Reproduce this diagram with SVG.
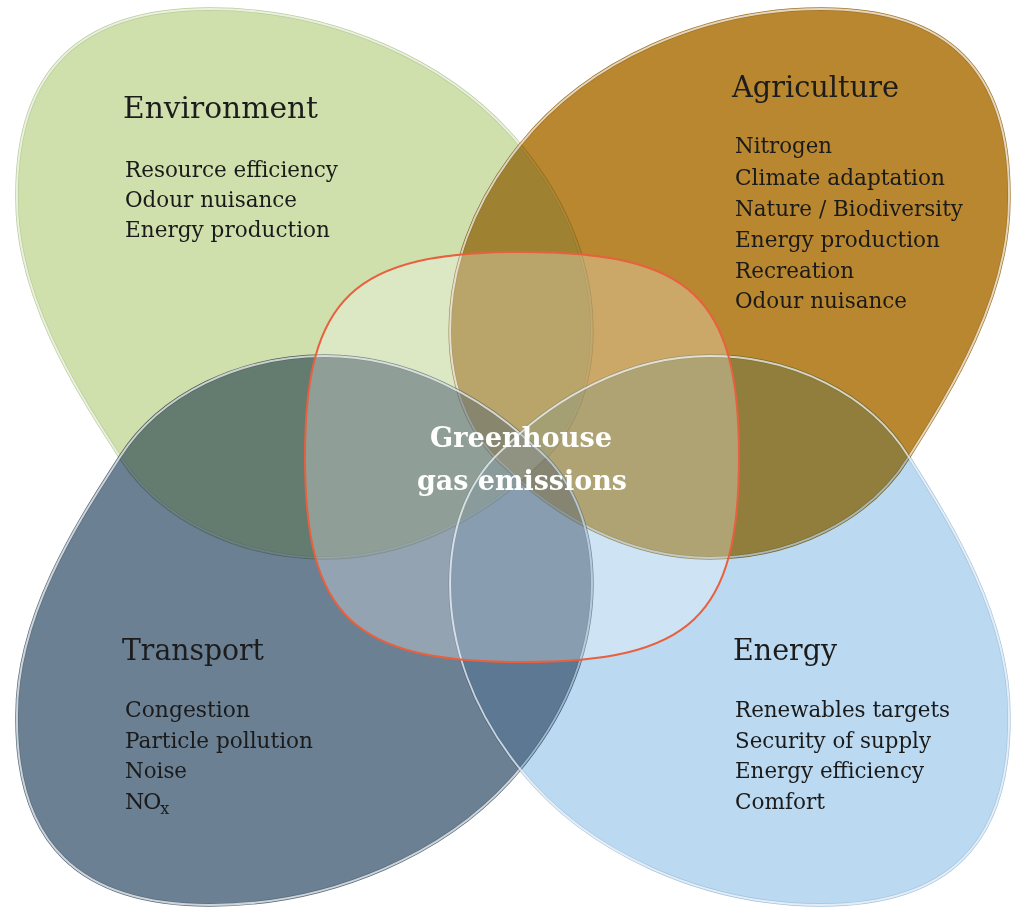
<svg xmlns="http://www.w3.org/2000/svg" xmlns:xlink="http://www.w3.org/1999/xlink" width="1011" height="910" viewBox="0 0 1011 910">
<style>
.fill{mix-blend-mode:multiply;stroke-width:3.4}
.edge{fill:none;stroke:#ffffff;stroke-opacity:0.7;stroke-width:2}
.wash{fill:#ffffff;fill-opacity:0.08;stroke:none}
.h{font-family:"DejaVu Serif","Liberation Serif",serif;font-size:29px;fill:#1c1c1c}
.b{font-family:"DejaVu Serif","Liberation Serif",serif;font-size:22px;fill:#1a1a1a}
.g{font-family:"DejaVu Serif","Liberation Serif",serif;font-size:27px;font-weight:bold;fill:#ffffff;text-anchor:middle}
</style>
<defs>
<path id="leaf" d="M 210,9 C 330,9 450,60 520,145 C 570,205 592,270 592,330 C 592,395 568,440 534,468 C 485,515 410,558 325,558 C 240,558 160,520 120,457 C 80,395 17,300 17,200 C 15,70 80,9 210,9 Z"/>
<clipPath id="clipG"><use xlink:href="#leaf" href="#leaf"/></clipPath>
<clipPath id="clipE"><use xlink:href="#leaf" href="#leaf" transform="matrix(-0.972,0,0,-1,1025.5,914)"/></clipPath>
</defs>
<rect x="0" y="0" width="1011" height="910" fill="#ffffff"/>
<g id="connectors"/>
<g id="environment">
<use xlink:href="#leaf" href="#leaf" class="fill" fill="#cfe0ad" stroke="#b9cc98"/>
<use xlink:href="#leaf" href="#leaf" class="edge"/>
<text class="h" x="123" y="118" textLength="195" lengthAdjust="spacingAndGlyphs">Environment</text>
<text class="b" x="125" y="177" textLength="213" lengthAdjust="spacingAndGlyphs">Resource efficiency</text>
<text class="b" x="125" y="207" textLength="172" lengthAdjust="spacingAndGlyphs">Odour nuisance</text>
<text class="b" x="125" y="237" textLength="205" lengthAdjust="spacingAndGlyphs">Energy production</text>
</g>
<g id="agriculture">
<use xlink:href="#leaf" href="#leaf" class="fill" fill="#b9872f" stroke="#a27425" transform="matrix(-0.972,0,0,1,1025.5,0)"/>
<use xlink:href="#leaf" href="#leaf" class="edge" transform="matrix(-0.972,0,0,1,1025.5,0)"/>
<text class="h" x="732" y="97" textLength="167" lengthAdjust="spacingAndGlyphs">Agriculture</text>
<text class="b" x="735" y="153" textLength="97" lengthAdjust="spacingAndGlyphs">Nitrogen</text>
<text class="b" x="735" y="185" textLength="210" lengthAdjust="spacingAndGlyphs">Climate adaptation</text>
<text class="b" x="735" y="216" textLength="228" lengthAdjust="spacingAndGlyphs">Nature / Biodiversity</text>
<text class="b" x="735" y="247" textLength="205" lengthAdjust="spacingAndGlyphs">Energy production</text>
<text class="b" x="735" y="278" textLength="119" lengthAdjust="spacingAndGlyphs">Recreation</text>
<text class="b" x="735" y="308" textLength="172" lengthAdjust="spacingAndGlyphs">Odour nuisance</text>
</g>
<g id="transport">
<use xlink:href="#leaf" href="#leaf" class="fill" fill="#6b8093" stroke="#586c7e" transform="matrix(1,0,0,-1,0,914)"/>
<use xlink:href="#leaf" href="#leaf" class="edge" transform="matrix(1,0,0,-1,0,914)"/>
<text class="h" x="122" y="660" textLength="142" lengthAdjust="spacingAndGlyphs">Transport</text>
<text class="b" x="125" y="717" textLength="125" lengthAdjust="spacingAndGlyphs">Congestion</text>
<text class="b" x="125" y="748" textLength="188" lengthAdjust="spacingAndGlyphs">Particle pollution</text>
<text class="b" x="125" y="778" textLength="62" lengthAdjust="spacingAndGlyphs">Noise</text>
<text class="b" x="125" y="809" letter-spacing="-1">NO<tspan font-size="16" dy="5">x</tspan></text>
</g>
<g id="energy">
<use xlink:href="#leaf" href="#leaf" class="fill" fill="#bbd9f0" stroke="#a3c4e0" transform="matrix(-0.972,0,0,-1,1025.5,914)"/>
<use xlink:href="#leaf" href="#leaf" class="edge" transform="matrix(-0.972,0,0,-1,1025.5,914)"/>
<text class="h" x="733" y="660" textLength="104" lengthAdjust="spacingAndGlyphs">Energy</text>
<text class="b" x="735" y="717" textLength="215" lengthAdjust="spacingAndGlyphs">Renewables targets</text>
<text class="b" x="735" y="748" textLength="196" lengthAdjust="spacingAndGlyphs">Security of supply</text>
<text class="b" x="735" y="778" textLength="189" lengthAdjust="spacingAndGlyphs">Energy efficiency</text>
<text class="b" x="735" y="809" textLength="90" lengthAdjust="spacingAndGlyphs">Comfort</text>
</g>
<g id="overlaps">
<g clip-path="url(#clipG)"><use xlink:href="#leaf" href="#leaf" class="wash" transform="matrix(-0.972,0,0,1,1025.5,0)"/></g>
<g clip-path="url(#clipG)"><use xlink:href="#leaf" href="#leaf" class="wash" transform="matrix(1,0,0,-1,0,914)"/></g>
<g clip-path="url(#clipE)"><use xlink:href="#leaf" href="#leaf" class="wash" transform="matrix(-0.972,0,0,1,1025.5,0)"/></g>
<g clip-path="url(#clipE)"><use xlink:href="#leaf" href="#leaf" class="wash" transform="matrix(1,0,0,-1,0,914)"/></g>
</g>
<g id="ghg">
<path d="M 739,457 C 739,617 691,662 522,662 C 353,662 305,617 305,457 C 305,297 353,252 522,252 C 691,252 739,297 739,457 Z" fill="#ffffff" fill-opacity="0.28" stroke="#e8603d" stroke-width="2"/>
<text class="g" x="521" y="447" textLength="182" lengthAdjust="spacingAndGlyphs">Greenhouse</text>
<text class="g" x="522" y="490" textLength="210" lengthAdjust="spacingAndGlyphs">gas emissions</text>
</g>
</svg>
